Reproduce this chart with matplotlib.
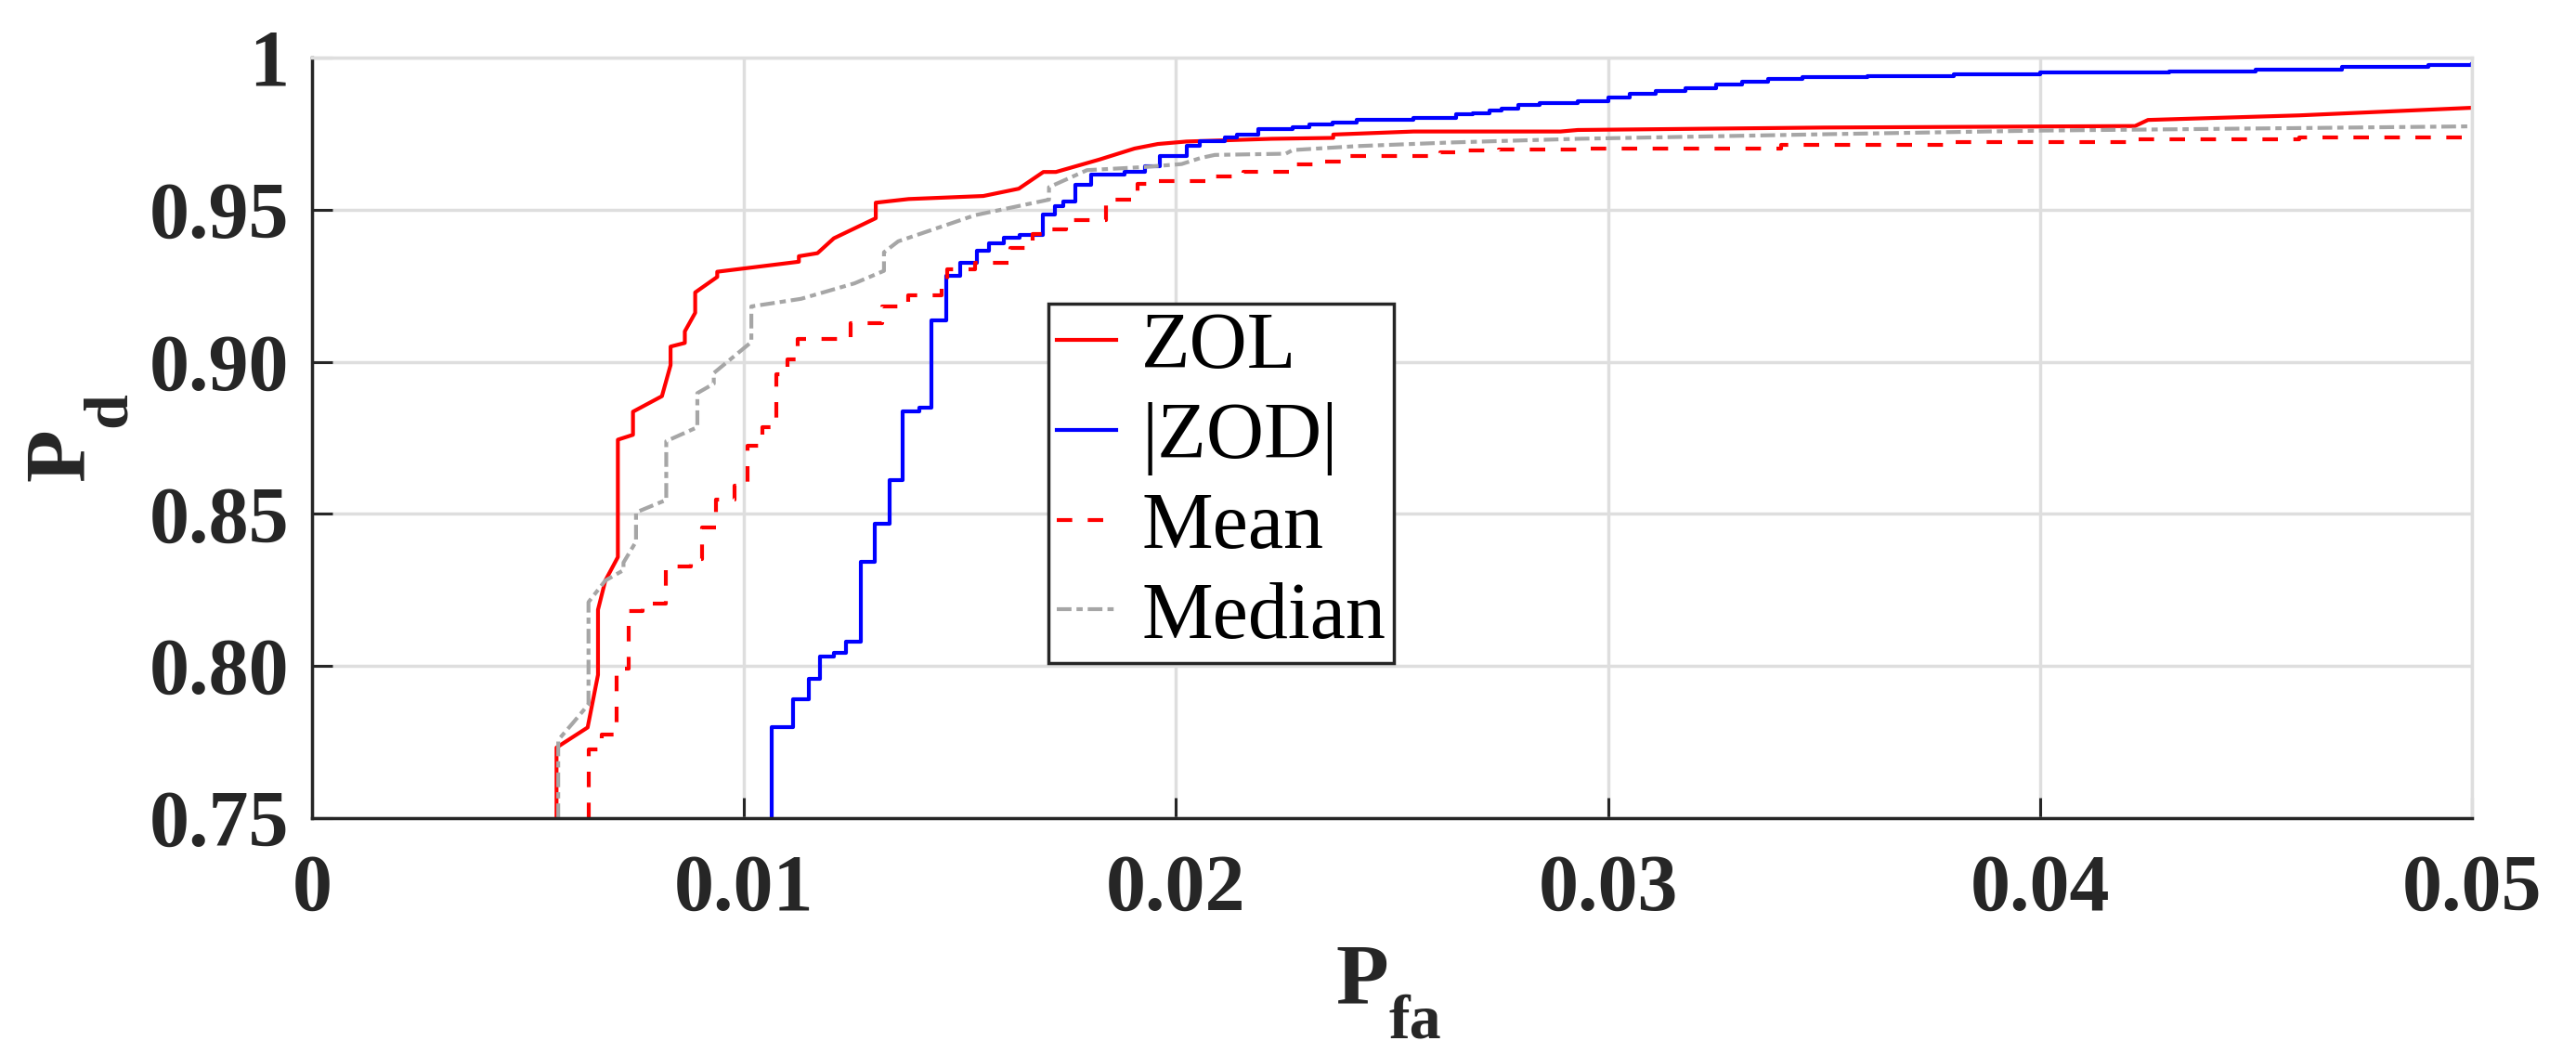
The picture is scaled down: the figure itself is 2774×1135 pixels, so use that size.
import numpy as np
import matplotlib
matplotlib.use("Agg")
import matplotlib.pyplot as plt

# ZOL (red solid)
zol_pfa = [0.00566, 0.00566, 0.00638, 0.00662, 0.00662, 0.00679, 0.00708, 0.00708, 0.00743, 0.00743,
           0.0081, 0.0083, 0.0083, 0.00863, 0.00863, 0.00887, 0.00887, 0.00938, 0.00938, 0.01127,
           0.01127, 0.0117, 0.01208, 0.01305, 0.01305, 0.01381, 0.01554, 0.01636, 0.01693, 0.01722,
           0.01823, 0.01904, 0.01958, 0.02024, 0.02221, 0.02364, 0.02364, 0.0255, 0.0289, 0.0293,
           0.035, 0.0422, 0.0425, 0.046, 0.05]
zol_pd = [0.75, 0.7732, 0.7798, 0.7971, 0.8185, 0.8281, 0.8358, 0.8744, 0.876, 0.8836,
          0.8887, 0.8989, 0.905, 0.9062, 0.910, 0.9161, 0.9228, 0.9279, 0.9296, 0.9329,
          0.9347, 0.9357, 0.9406, 0.9472, 0.9523, 0.9535, 0.9545, 0.9569, 0.9624, 0.9624,
          0.9665, 0.9701, 0.9716, 0.9724, 0.9733, 0.9736, 0.9747, 0.9757, 0.9757, 0.9762,
          0.977, 0.9775, 0.9795, 0.981, 0.9835]

# |ZOD| (blue, staircase)
zod_pfa = [0.01065, 0.01065, 0.01113, 0.01151, 0.01175, 0.01209, 0.01235, 0.01271, 0.01303, 0.01338,
           0.01367, 0.01405, 0.01434, 0.01468, 0.01501, 0.0154, 0.01568, 0.01602, 0.01638, 0.01691,
           0.01719, 0.0174, 0.01767, 0.01803, 0.0188, 0.01928, 0.01962, 0.02024, 0.02055, 0.02114,
           0.02142, 0.02191, 0.0227, 0.02309, 0.02362, 0.02419, 0.0255, 0.02649, 0.02687, 0.02726,
           0.02753, 0.02792, 0.02841, 0.0293, 0.0300, 0.0305, 0.0311, 0.0318, 0.0325, 0.0331,
           0.0337, 0.0345, 0.036, 0.038, 0.040, 0.043, 0.045, 0.047, 0.049, 0.05]
zod_pd = [0.75, 0.78, 0.7892, 0.7959, 0.8032, 0.8044, 0.8081, 0.8342, 0.8468, 0.8612,
          0.8836, 0.8848, 0.9136, 0.9284, 0.9324, 0.9365, 0.939, 0.9408, 0.9418, 0.9484,
          0.9513, 0.9528, 0.9581, 0.9614, 0.9625, 0.9642, 0.9676, 0.9711, 0.9726, 0.9738,
          0.9747, 0.9764, 0.9772, 0.9779, 0.9787, 0.9794, 0.9803, 0.9813, 0.9818, 0.9825,
          0.9833, 0.9843, 0.9851, 0.9858, 0.987, 0.988, 0.989, 0.990, 0.991, 0.992,
          0.993, 0.9935, 0.994, 0.9945, 0.995, 0.9955, 0.996, 0.997, 0.9975, 0.998]

# Mean (red dashed, staircase)
mean_pfa = [0.0064, 0.0064, 0.0067, 0.00705, 0.00733, 0.00765, 0.0082, 0.00877, 0.00902, 0.00935,
            0.00978, 0.01009, 0.01043, 0.01074, 0.011, 0.01125, 0.01247, 0.01319, 0.01381, 0.01458,
            0.0147, 0.01535, 0.01616, 0.01669, 0.0169, 0.01745, 0.01837, 0.01899, 0.0191, 0.0195,
            0.02068, 0.02156, 0.02265, 0.02342, 0.02391, 0.02611, 0.02677, 0.02748, 0.0293, 0.034,
            0.038, 0.042, 0.046, 0.05]
mean_pd = [0.75, 0.7725, 0.7776, 0.7991, 0.818, 0.8205, 0.8327, 0.8353, 0.8455, 0.8546,
           0.8592, 0.8724, 0.8785, 0.8958, 0.9009, 0.9075, 0.9126, 0.9182, 0.9218, 0.9253,
           0.9304, 0.9324, 0.9375, 0.9421, 0.9436, 0.9467, 0.9533, 0.9558, 0.9584, 0.9594,
           0.9609, 0.9624, 0.965, 0.9658, 0.9675, 0.9689, 0.9696, 0.9699, 0.9701, 0.9712,
           0.9722, 0.973, 0.9738, 0.9745]

# Median (gray dash-dot)
median_pfa = [0.0057, 0.0057, 0.00604, 0.0064, 0.0064, 0.00679, 0.00721, 0.00721, 0.0075, 0.0075,
              0.0082, 0.0082, 0.00892, 0.00892, 0.0093, 0.0093, 0.01017, 0.01017, 0.01132, 0.01256,
              0.01324, 0.01324, 0.01357, 0.01535, 0.01706, 0.01706, 0.01794, 0.01925, 0.02013, 0.02057,
              0.0209, 0.02254, 0.0227, 0.02419, 0.02638, 0.0293, 0.035, 0.04, 0.0465, 0.05]
median_pd = [0.75, 0.7757, 0.7813, 0.7874, 0.821, 0.8281, 0.8315, 0.834, 0.8409, 0.8505,
             0.8546, 0.8739, 0.8785, 0.8897, 0.8928, 0.8963, 0.9065, 0.9182, 0.9207, 0.9258,
             0.9299, 0.936, 0.9396, 0.9482, 0.9533, 0.9574, 0.963, 0.964, 0.965, 0.967,
             0.968, 0.9684, 0.9696, 0.9709, 0.9721, 0.9733, 0.9748, 0.976, 0.9769, 0.9774]

xticks = [0, 0.01, 0.02, 0.03, 0.04, 0.05]
xtick_labels = ["0", "0.01", "0.02", "0.03", "0.04", "0.05"]
yticks = [0.75, 0.80, 0.85, 0.90, 0.95, 1.0]
ytick_labels = ["0.75", "0.80", "0.85", "0.90", "0.95", "1"]

plt.rcParams['font.family'] = ['Liberation Serif', 'DejaVu Serif']

dark = '#262626'
gridc = '#dedede'
W, H = 2774, 1135

fig = plt.figure(figsize=(W / 100, H / 100), dpi=100)
ax = fig.add_axes([336 / W, 254 / H, 2326 / W, 819 / H])

ax.plot(zol_pfa, zol_pd, color='#ff0000', lw=3, label='ZOL')
ax.step(zod_pfa, zod_pd, where='post', color='#0000ff', lw=3, label='|ZOD|')
ax.step(mean_pfa, mean_pd, where='post', color='#ff0000', lw=3, dashes=(4, 4), label='Mean')
ax.plot(median_pfa, median_pd, color='#a6a6a6', lw=3, dashes=(3.8, 1.3, 1.6, 1.3), label='Median')

ax.set_xlim(0, 0.05)
ax.set_ylim(0.75, 1.0)
ax.set_xticks(xticks)
ax.set_xticklabels(xtick_labels)
ax.set_yticks(yticks)
ax.set_yticklabels(ytick_labels)
ax.set_axisbelow(True)
ax.grid(True, color=gridc, lw=2.5)

for s in ['left', 'bottom']:
    ax.spines[s].set_color(dark)
    ax.spines[s].set_linewidth(2.5)
for s in ['top', 'right']:
    ax.spines[s].set_color(gridc)
    ax.spines[s].set_linewidth(2.5)

ax.tick_params(axis='both', direction='in', length=16, width=2.2, color=dark,
               labelcolor=dark, labelsize=62)
ax.tick_params(axis='x', pad=28)
ax.tick_params(axis='y', pad=18)
for lab in ax.get_xticklabels() + ax.get_yticklabels():
    lab.set_fontweight('bold')

# axis labels with deep subscripts (placed in figure pixels)
def px(x, y):
    return x / W, 1 - y / H

fig.text(*px(1438, 1080), 'P', fontsize=67, fontweight='bold', color=dark,
         ha='left', va='baseline')
fig.text(*px(1496, 1118), 'fa', fontsize=49, fontweight='bold', color=dark,
         ha='left', va='baseline')
fig.text(*px(90, 518), 'P', fontsize=67, fontweight='bold', color=dark,
         ha='left', va='baseline', rotation=90, rotation_mode='anchor')
fig.text(*px(135, 460), 'd', fontsize=49, fontweight='bold', color=dark,
         ha='left', va='baseline', rotation=90, rotation_mode='anchor')

leg = ax.legend(loc='upper left', bbox_to_anchor=(0.341, 0.676), borderaxespad=0,
                fontsize=62, handlelength=0.75, handletextpad=0.31, borderpad=0.1,
                labelspacing=0.2, fancybox=False, framealpha=1, edgecolor=dark)
leg.get_frame().set_linewidth(2.5)

fig.savefig("out.png", dpi=100, facecolor='white')
